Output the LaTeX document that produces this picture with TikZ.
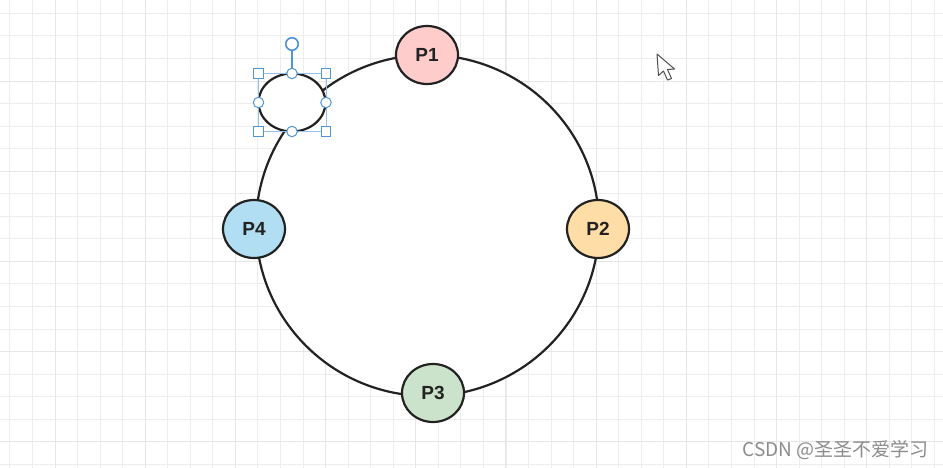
\documentclass[tikz,border=0pt]{standalone}
\usepackage{fontspec}
\setmainfont{Liberation Sans}
\newfontfamily\cjkfont{Noto Sans CJK SC}
\usetikzlibrary{shapes.geometric}
\definecolor{gridminor}{RGB}{237,237,237}
\definecolor{gridmajor}{RGB}{230,230,230}
\definecolor{edgeink}{RGB}{34,34,34}
\definecolor{pinkfill}{HTML}{FFCCCC}
\definecolor{orangefill}{HTML}{FFDDA6}
\definecolor{greenfill}{HTML}{CCE3CB}
\definecolor{bluefill}{HTML}{B1DEF2}
\definecolor{selblue}{RGB}{80,150,215}
\definecolor{markgray}{RGB}{140,140,140}
\begin{document}
\begin{tikzpicture}[x=1pt,y=-1pt,
  pnode/.style={ellipse, draw=edgeink, line width=2.2pt, minimum width=62pt, minimum height=58pt, inner sep=0pt, font=\bfseries\fontsize{19}{19}\selectfont, text=edgeink},
  handlesq/.style={rectangle, draw=selblue, fill=white, line width=1pt, minimum size=9.5pt, inner sep=0pt},
  handlecirc/.style={circle, draw=selblue, fill=white, line width=1pt, minimum size=10.5pt, inner sep=0pt},
  rothandle/.style={circle, draw=selblue, fill=white, line width=1.6pt, minimum size=12.5pt, inner sep=0pt}
]
\useasboundingbox (0,0) rectangle (943,468);
\fill[white] (0,0) rectangle (943,468);
% grid
\foreach \i in {0,...,41}{
  \pgfmathsetmacro{\gx}{floor(9.9+\i*22.55)+0.5}
  \draw[gridminor, line width=1.6pt] (\gx,0) -- (\gx,468);
}
\foreach \i in {0,...,20}{
  \pgfmathsetmacro{\gy}{floor(13.35+\i*22.55)+0.5}
  \draw[gridminor, line width=1.6pt] (0,\gy) -- (943,\gy);
}
\foreach \i in {0,...,10}{
  \pgfmathsetmacro{\gx}{floor(55+\i*90.2)+0.5}
  \draw[gridmajor, line width=1.8pt] (\gx,0) -- (\gx,468);
}
\foreach \i in {0,...,4}{
  \pgfmathsetmacro{\gy}{floor(81+\i*90.2)+0.5}
  \draw[gridmajor, line width=1.8pt] (0,\gy) -- (943,\gy);
}
% ring
\node[ellipse, draw=edgeink, fill=white, line width=2.2pt, minimum width=343pt, minimum height=341pt, inner sep=0pt] (ring) at (427.5,225.5) {};
% nodes
\node[pnode, fill=pinkfill] (p1) at (427,55) {P1};
\node[pnode, fill=orangefill] (p2) at (598,229) {P2};
\node[pnode, fill=greenfill] (p3) at (433,393) {P3};
\node[pnode, fill=bluefill] (p4) at (254,229) {P4};
% selected ellipse
\node[ellipse, draw=edgeink, fill=white, line width=2.2pt, minimum width=67pt, minimum height=58pt, inner sep=0pt] (sel) at (292,102.5) {};
\draw[selblue!60, line width=0.6pt] (258.5,73.5) rectangle (326,131.5);
\node[rothandle] (rot) at (292,44) {};
\node[handlecirc] (hn) at (292,73.5) {};
\draw[selblue, line width=1.6pt] (rot) -- (hn);
\node[handlecirc] (hs) at (292,131.5) {};
\node[handlecirc] (hw) at (258.5,102.5) {};
\node[handlecirc] (he) at (326,102.5) {};
\node[handlesq] (hnw) at (258.5,73.5) {};
\node[handlesq] (hne) at (326,73.5) {};
\node[handlesq] (hsw) at (258.5,131.5) {};
\node[handlesq] (hse) at (326,131.5) {};
% cursor
\draw[edgeink!80, fill=white, line width=1pt, line join=round]
  (657,54) -- (658.5,75.5) -- (663.5,71) -- (667.5,80) -- (671.5,78.5) -- (667.5,69.5) -- (674.5,69) -- cycle;
% watermark
\node[anchor=east, text=markgray, font=\cjkfont\fontsize{19}{19}\selectfont, inner sep=0pt] (wm) at (929,450) {CSDN @圣圣不爱学习};
\end{tikzpicture}
\end{document}
